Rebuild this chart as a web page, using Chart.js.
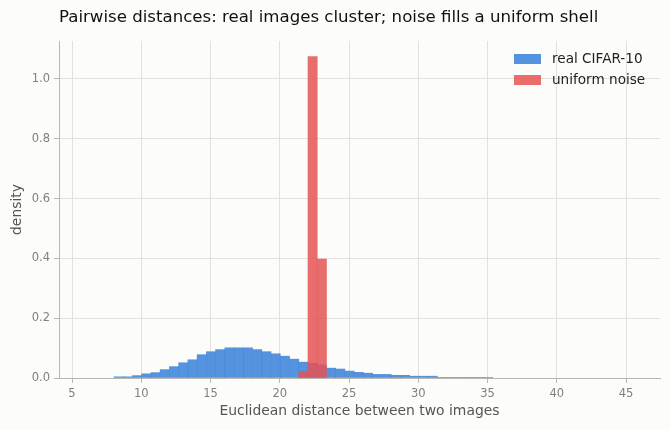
<!DOCTYPE html>
<html>
<head>
<meta charset="utf-8">
<script src="https://cdn.jsdelivr.net/npm/chart.js@4.4.1/dist/chart.umd.min.js"></script>
<style>
  html, body { margin: 0; padding: 0; background: #fcfcfa; }
  #wrap { width: 670px; height: 430px; }
</style>
</head>
<body>
<div id="wrap"><canvas id="hist"></canvas></div>
<script>
// histogram bins shared by both series
const binStart = 8.03;
const binWidth = 0.667;

// density per bin, real CIFAR-10 pairs (41 bins)
const realDensity = [
  0.004, 0.004, 0.008, 0.014, 0.018, 0.028, 0.038, 0.051, 0.061, 0.078,
  0.088, 0.095, 0.101, 0.101, 0.101, 0.095, 0.088, 0.081, 0.073, 0.063,
  0.053, 0.050, 0.044, 0.033, 0.030, 0.023, 0.019, 0.016, 0.012, 0.012,
  0.009, 0.009, 0.006, 0.006, 0.006, 0.002, 0.002, 0.002, 0.002, 0.002,
  0.002
];

// uniform noise only fills three bins
const noiseFirstBin = 20;
const noiseDensity = [0.022, 1.075, 0.398];

const xTicks = [5, 10, 15, 20, 25, 30, 35, 40, 45];
const seriesNames = ['real CIFAR-10', 'uniform noise'];

const binCenter = i => binStart + binWidth * (i + 0.5);

const palette = {
  blue: 'rgba(66, 135, 220, 0.9)',
  red: 'rgba(229, 83, 83, 0.85)',
  grid: '#e2e2da',
  spine: '#b8b8b0',
  tick: '#808080',
  label: '#555555'
};

const FONT = "'DejaVu Sans', sans-serif";

const titleAndLegend = {
  id: 'titleAndLegend',
  afterDraw(chart) {
    const ctx = chart.ctx;
    const area = chart.chartArea;
    ctx.save();
    ctx.fillStyle = '#111';
    ctx.font = "16.6px " + FONT;
    ctx.textBaseline = 'middle';
    ctx.textAlign = 'left';
    ctx.fillText('Pairwise distances: real images cluster; noise fills a uniform shell', area.left, 18);

    ctx.font = "13.6px " + FONT;
    chart.data.datasets.forEach((ds, i) => {
      const y = 59 + i * 21;
      ctx.fillStyle = ds.backgroundColor;
      ctx.fillRect(514, y - 5, 27, 10);
      ctx.fillStyle = '#222';
      ctx.fillText(ds.label, 552, y);
    });
    ctx.restore();
  }
};

new Chart(document.getElementById('hist').getContext('2d'), {
  type: 'bar',
  data: {
    datasets: [
      {
        label: seriesNames[0],
        data: realDensity.map((d, i) => ({ x: binCenter(i), y: d })),
        backgroundColor: palette.blue,
        borderWidth: 0,
        barPercentage: 1,
        categoryPercentage: 1,
        grouped: false,
        order: 2
      },
      {
        label: seriesNames[1],
        data: noiseDensity.map((d, i) => ({ x: binCenter(noiseFirstBin + i), y: d })),
        backgroundColor: palette.red,
        borderWidth: 0,
        barPercentage: 1,
        categoryPercentage: 1,
        grouped: false,
        order: 1
      }
    ]
  },
  options: {
    responsive: true,
    maintainAspectRatio: false,
    animation: false,
    layout: { padding: { top: 41, right: 10, left: 0, bottom: 0 } },
    plugins: {
      legend: { display: false },
      tooltip: { enabled: false }
    },
    scales: {
      x: {
        type: 'linear',
        offset: false,
        min: 4.06,
        max: 47.45,
        afterFit: s => { s.height = 52; },
        afterBuildTicks: s => { s.ticks = xTicks.map(v => ({ value: v })); },
        ticks: {
          includeBounds: false,
          color: palette.tick,
          font: { family: FONT, size: 11.5 },
          padding: 4,
          maxRotation: 0
        },
        grid: { offset: false, color: palette.grid, tickColor: palette.spine, tickLength: 5 },
        border: { display: true, color: palette.spine, width: 1 },
        title: {
          display: true,
          text: 'Euclidean distance between two images',
          color: palette.label,
          font: { family: FONT, size: 13.9 },
          padding: { top: 0, bottom: 10 }
        }
      },
      y: {
        min: 0,
        max: 1.127,
        afterFit: s => { s.width = 59; },
        ticks: {
          stepSize: 0.2,
          includeBounds: false,
          color: palette.tick,
          font: { family: FONT, size: 11.5 },
          padding: 4,
          callback: v => v.toFixed(1)
        },
        grid: { color: palette.grid, tickColor: palette.spine, tickLength: 5 },
        border: { display: true, color: palette.spine, width: 1 },
        title: {
          display: true,
          text: 'density',
          color: palette.label,
          font: { family: FONT, size: 13.9 },
          padding: { top: 9, bottom: 0 }
        }
      }
    }
  },
  plugins: [titleAndLegend]
});
</script>
</body>
</html>
